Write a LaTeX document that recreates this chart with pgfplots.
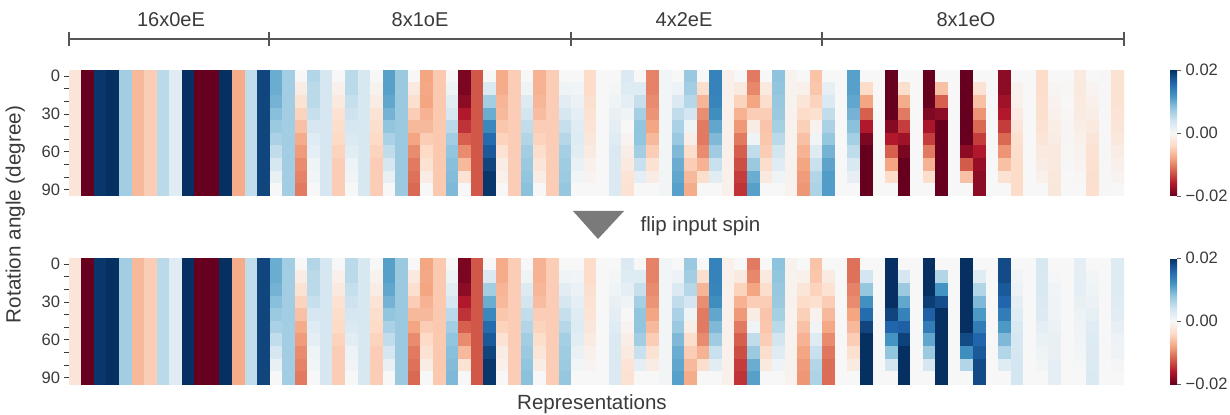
\documentclass[border=0pt]{standalone}
\usepackage{fontspec}
\setmainfont{Liberation Sans}
\usepackage{pgfplots}
\usepackage{pgfplotstable}
\pgfplotsset{compat=1.18}
\definecolor{txt}{HTML}{3A3A3A}
\definecolor{brk}{HTML}{555555}
\definecolor{tri}{HTML}{7A7A7A}
\pgfplotsset{colormap={RdBuR}{rgb255=(103,0,31) rgb255=(178,24,43) rgb255=(214,96,77) rgb255=(244,165,130) rgb255=(253,219,199) rgb255=(247,247,247) rgb255=(209,229,240) rgb255=(146,197,222) rgb255=(67,147,195) rgb255=(33,102,172) rgb255=(5,48,97)}}
% values in units of 0.001; one line per heatmap column, angles 0..90
\pgfplotstableread[row sep=\\,header=false]{
-2.5\\-2.5\\-2.5\\-2.5\\-2.5\\-2.5\\-2.5\\-2.5\\-2.5\\-2.5\\
-20\\-20\\-20\\-20\\-20\\-20\\-20\\-20\\-20\\-20\\
19.5\\19.5\\19.5\\19.5\\19.5\\19.5\\19.5\\19.5\\19.5\\19.5\\
20\\20\\20\\20\\20\\20\\20\\20\\20\\20\\
7\\7\\7\\7\\7\\7\\7\\7\\7\\7\\
-6.5\\-6.5\\-6.5\\-6.5\\-6.5\\-6.5\\-6.5\\-6.5\\-6.5\\-6.5\\
-5\\-5\\-5\\-5\\-5\\-5\\-5\\-5\\-5\\-5\\
5.5\\5.5\\5.5\\5.5\\5.5\\5.5\\5.5\\5.5\\5.5\\5.5\\
2.5\\2.5\\2.5\\2.5\\2.5\\2.5\\2.5\\2.5\\2.5\\2.5\\
20\\20\\20\\20\\20\\20\\20\\20\\20\\20\\
-20\\-20\\-20\\-20\\-20\\-20\\-20\\-20\\-20\\-20\\
-20\\-20\\-20\\-20\\-20\\-20\\-20\\-20\\-20\\-20\\
20\\20\\20\\20\\20\\20\\20\\20\\20\\20\\
-7.5\\-7.5\\-7.5\\-7.5\\-7.5\\-7.5\\-7.5\\-7.5\\-7.5\\-7.5\\
5\\5\\5\\5\\5\\5\\5\\5\\5\\5\\
18.5\\18.5\\18.5\\18.5\\18.5\\18.5\\18.5\\18.5\\18.5\\18.5\\
10\\10\\9.5\\8.5\\7.5\\6.5\\5\\3.5\\1.5\\0\\
7\\7\\7\\7\\7\\7\\7\\7\\7\\7\\
0\\-1.5\\-3\\-4.5\\-6\\-7.5\\-8.5\\-9.5\\-10\\-10.5\\
6\\5.5\\5.5\\4.7\\3.5\\2.5\\2\\1\\0.5\\0\\
3.5\\3.5\\3.5\\3.5\\3.5\\3.5\\3.5\\3.5\\3.5\\3.5\\
0\\-1\\-2\\-3\\-3.5\\-4\\-4.5\\-5\\-5\\-5\\
5.5\\5.5\\4.7\\4.2\\3.5\\3\\2.2\\1.2\\0.6\\0\\
3.3\\3.3\\3.3\\3.3\\3.3\\3.3\\3.3\\3.3\\3.3\\3.3\\
0\\-0.7\\-1.5\\-2.7\\-3.5\\-4\\-4.5\\-5\\-5\\-5\\
11\\11\\10.5\\9.5\\8\\6.5\\5\\3.5\\1.5\\0\\
7.5\\7.5\\7.5\\7.5\\7.5\\7.5\\7.5\\7.5\\7.5\\7.5\\
0\\-2\\-3.3\\-5\\-6.5\\-8\\-9.5\\-10.5\\-11\\-11.5\\
-8\\-7.8\\-8\\-7\\-6.5\\-5\\-4\\-3\\-1.5\\0\\
-5.3\\-5.3\\-5.3\\-5.3\\-5.3\\-5.3\\-5.3\\-5.3\\-5.3\\-5.3\\
0\\1\\2.3\\3.5\\5.5\\7\\8\\8.5\\8.8\\9\\
-19\\-19\\-18\\-16\\-14.5\\-12\\-9.5\\-6.5\\-3\\0\\
-12.5\\-12.5\\-12.5\\-12.5\\-12.5\\-12.5\\-12.5\\-12.5\\-12.5\\-12.5\\
0\\3\\7\\10\\13\\15.5\\17\\18.5\\19.5\\19.5\\
-7.5\\-7.5\\-6.8\\-6.5\\-5.5\\-4.5\\-3\\-1.5\\-1\\0\\
-5\\-5\\-5\\-5\\-5\\-5\\-5\\-5\\-5\\-5\\
0\\1\\2.8\\3.8\\5\\6\\7\\7.5\\8\\8.3\\
-7\\-7\\-6.7\\-6.2\\-5\\-4.5\\-3.5\\-2.5\\-1.5\\0\\
-5\\-5\\-5\\-5\\-5\\-5\\-5\\-5\\-5\\-5\\
0\\1\\2.3\\3.5\\4.8\\5.8\\6.8\\7.2\\7.4\\7.8\\
0\\0.6\\1.3\\2\\2.5\\2.7\\2.2\\1.4\\0.5\\0\\
-3.7\\-3.7\\-3.3\\-3\\-2.8\\-2.3\\-1.7\\-1\\-0.6\\0\\
0\\0\\0\\0\\0\\0\\0\\0\\0\\0\\
0\\0.3\\1\\1.5\\2\\2.5\\3\\3\\3\\3\\
3\\2.7\\2\\1\\0\\-0.5\\-1.3\\-2\\-2.7\\-3\\
0\\2.7\\4.7\\6.8\\8\\8\\7\\4.5\\2\\0\\
-10\\-10\\-9.5\\-9\\-8\\-6.5\\-5\\-3\\-1.5\\0\\
0.5\\0.5\\0.5\\0.5\\0.5\\0.5\\0.5\\0.5\\0.5\\0.5\\
0\\1.2\\3\\5\\6.5\\7.5\\9\\10\\10.5\\11\\
7.6\\7\\5.8\\3.7\\1\\-1.3\\-3.6\\-5\\-6.5\\-7.5\\
0\\-3.5\\-6.8\\-9.3\\-10.5\\-10.5\\-9.5\\-7\\-3.5\\0\\
13.5\\13.5\\13.3\\12.5\\10.5\\9\\7.2\\4.5\\2.2\\0\\
-1\\-1\\-1\\-1\\-1\\-1\\-1\\-1\\-1\\-1\\
0\\-2\\-4.5\\-7\\-8.7\\-10.5\\-12\\-13\\-14\\-14.5\\
-10.5\\-9.7\\-8\\-5\\-1.5\\1\\5\\7.5\\10\\11\\
0\\-2\\-3.5\\-5\\-5.7\\-5.5\\-5\\-3.5\\-2\\0\\
8.2\\8\\7.7\\7.5\\6.8\\5.5\\3.8\\2.5\\1\\0\\
-0.7\\-0.7\\-0.7\\-0.7\\-0.7\\-0.7\\-0.7\\-0.7\\-0.7\\-0.7\\
0\\-1\\-2.5\\-3.7\\-4.8\\-6\\-7\\-8\\-8.5\\-8.8\\
-5.8\\-5.5\\-4.6\\-3.2\\-0.8\\0.6\\2.6\\4.5\\6\\6.3\\
}\tabCommon
\pgfplotstableread[row sep=\\,header=false]{
0\\1.7\\3\\5\\6.5\\7.8\\9.5\\10.7\\11.3\\11.3\\
0\\0\\0\\0\\0\\0\\0\\0\\0\\0\\
11\\11\\10.5\\9.5\\8.3\\6.8\\5.2\\3.2\\1.7\\0\\
0\\-3.7\\-8\\-12\\-16\\-18.8\\-20\\-20\\-20\\-20\\
0\\0\\0\\0\\0\\0\\0\\0\\0\\0\\
-20\\-20\\-20\\-20\\-18.3\\-16\\-12\\-8\\-3.7\\0\\
0\\-3.5\\-7.5\\-10.5\\-14\\-17\\-19\\-20\\-20\\-20\\
0\\0\\0\\0\\0\\0\\0\\0\\0\\0\\
-20\\-20\\-20\\-18.7\\-16.5\\-14\\-10.5\\-7\\-3.5\\0\\
0\\-6\\-12\\-18\\-20\\-20\\-20\\-20\\-20\\-20\\
0\\0\\0\\0\\0\\0\\0\\0\\0\\0\\
-20\\-20\\-20\\-20\\-20\\-20\\-18\\-12.3\\-6\\0\\
0\\-3\\-6\\-9\\-11.5\\-14\\-16\\-17.5\\-18\\-18\\
0\\0\\0\\0\\0\\0\\0\\0\\0\\0\\
-18\\-18\\-17\\-16\\-14\\-11.5\\-9\\-6\\-3\\0\\
0\\-0.8\\-1\\-1.8\\-2.5\\-3.2\\-3.5\\-3.7\\-3.7\\-3.7\\
0\\0\\0\\0\\0\\0\\0\\0\\0\\0\\
-3.7\\-3.5\\-3.4\\-3.3\\-3\\-2.5\\-2\\-1.5\\-1\\0\\
0\\-0.4\\-0.8\\-1\\-1.4\\-1.6\\-2\\-2\\-2.2\\-2.3\\
0\\-0.2\\0\\-0.2\\-0.3\\-0.3\\-0.2\\-0.1\\0\\0\\
-2\\-2\\-1.9\\-1.7\\-1.4\\-1\\-0.8\\-0.5\\-0.2\\0\\
0\\-0.5\\-1\\-1.3\\-2\\-2.5\\-3\\-3.2\\-3.3\\-3.4\\
-0.1\\-0.1\\-0.1\\-0.1\\-0.1\\-0.1\\-0.1\\-0.1\\-0.1\\-0.1\\
-3\\-3\\-2.9\\-2.8\\-2.5\\-2.2\\-1.5\\-1\\-0.5\\0\\
}\tabTop
\pgfplotstableread[row sep=\\,header=false]{
0\\-1.7\\-3\\-5\\-6.5\\-7.8\\-9.5\\-10.7\\-11.3\\-11.3\\
0\\0\\0\\0\\0\\0\\0\\0\\0\\0\\
-11\\-11\\-10\\-9.5\\-8\\-6.5\\-5\\-3.2\\-1.7\\0\\
0\\3.7\\7.8\\12.3\\15.5\\18.5\\20\\20\\20\\20\\
0\\0\\0\\0\\0\\0\\0\\0\\0\\0\\
20\\20\\20\\20\\18.5\\16\\12\\8\\3.7\\0\\
0\\3.5\\7.5\\10.5\\13.5\\16.5\\18.7\\20\\20\\20\\
0\\0\\0\\0\\0\\0\\0\\0\\0\\0\\
20\\20\\20\\19\\16.5\\14\\10.5\\7.5\\3.5\\0\\
0\\6\\12\\17.8\\20\\20\\20\\20\\20\\20\\
0\\0\\0\\0\\0\\0\\0\\0\\0\\0\\
20\\20\\20\\20\\20\\20\\18\\12.5\\6\\0\\
0\\2.5\\6\\9\\11.5\\14\\16\\17\\18\\18\\
0\\0\\0\\0\\0\\0\\0\\0\\0\\0\\
18\\18\\17\\16\\14\\11.5\\9\\6\\2.5\\0\\
0\\0.7\\1.2\\2\\2.5\\3.2\\3.5\\3.5\\3.7\\3.7\\
0\\0\\0\\0\\0\\0\\0\\0\\0\\0\\
3.3\\3.2\\3.2\\3.1\\2.8\\2\\1.4\\1\\0.5\\0\\
0\\0.2\\0.6\\0.8\\1\\1.3\\1.5\\1.6\\1.9\\2\\
0\\0\\0\\0\\0\\0\\0\\0\\0\\0\\
2\\2\\1.9\\1.6\\1.2\\0.8\\0.7\\0.5\\0.2\\0\\
0\\0.5\\1\\1.3\\1.8\\2.4\\2.7\\2.8\\2.9\\3\\
0\\0\\0\\0\\0\\0\\0\\0\\0\\0\\
2.7\\2.7\\2.7\\2.5\\2.2\\1.7\\1.2\\0.8\\0.4\\0\\
}\tabBottom
\pgfplotsset{
  heat/.style={
    scale only axis, width=791.25pt, height=94.5pt,
    xmin=-0.5, xmax=83.5, ymin=-5, ymax=95, y dir=reverse,
    colormap name=RdBuR, point meta min=-0.02, point meta max=0.02,
    axis line style={draw=none},
    xtick=\empty, ytick={0,10,...,90},
    yticklabels={0,,,30,,,60,,,90},
    ytick pos=left, tick align=outside,
    major tick length=3.75pt,
    y tick style={color=txt, line width=0.7pt},
    y tick label style={font=\fontsize{12.4}{14}\selectfont, text=txt, xshift=0.5pt},
    colorbar,
    colorbar style={
      scale only axis, at={(1.0436,1)}, anchor=north west,
      width=5.25pt, height=94.5pt,
      axis line style={draw=none},
      ytick={-0.02,0,0.02},
      yticklabels={−0.02,0.00,0.02},
      scaled y ticks=false,
      ytick pos=right, tick align=outside,
      major tick length=3pt,
      y tick style={color=txt!80, line width=0.7pt},
      y tick label style={font=\fontsize{12.4}{14}\selectfont, text=txt},
    },
  },
  cells/.style={matrix plot*, mesh/rows=10, mesh/cols=#1, mesh/ordering=y varies, point meta=explicit},
}
\begin{document}
\begin{tikzpicture}
\useasboundingbox (0,0) rectangle (922.5pt,310.5pt);
\begin{axis}[heat, at={(51.75pt,163.5pt)}, anchor=south west]
\addplot[cells=60] table[x index=0, y index=0, meta expr={\thisrowno{0}/1000}, x expr={floor((\coordindex+0.5)/10)}, y expr={10*(\coordindex-10*floor((\coordindex+0.5)/10))}] \tabCommon;
\addplot[cells=24] table[x index=0, y index=0, meta expr={\thisrowno{0}/1000}, x expr={60+floor((\coordindex+0.5)/10)}, y expr={10*(\coordindex-10*floor((\coordindex+0.5)/10))}] \tabTop;
\end{axis}
\begin{axis}[heat, at={(51.75pt,22.5pt)}, anchor=south west]
\addplot[cells=60] table[x index=0, y index=0, meta expr={\thisrowno{0}/1000}, x expr={floor((\coordindex+0.5)/10)}, y expr={10*(\coordindex-10*floor((\coordindex+0.5)/10))}] \tabCommon;
\addplot[cells=24] table[x index=0, y index=0, meta expr={\thisrowno{0}/1000}, x expr={60+floor((\coordindex+0.5)/10)}, y expr={10*(\coordindex-10*floor((\coordindex+0.5)/10))}] \tabBottom;
\end{axis}
% group bracket
\draw[brk, line width=1.1pt] (51.75pt,281.25pt) -- (843pt,281.25pt);
\foreach \x in {51.75,201.75,428.25,616.5,843}
  \draw[brk, line width=1.1pt] (\x pt,276pt) -- (\x pt,286.5pt);
\foreach \x/\t in {128.25/16x0eE,315/8x1oE,513/4x2eE,724.5/8x1eO}
  \node[text=txt, font=\fontsize{15}{18}\selectfont] at (\x pt,295.5pt) {\t};
% flip arrow
\fill[tri] (429.75pt,152.25pt) -- (468pt,152.25pt) -- (448.5pt,131.25pt) -- cycle;
\node[text=txt, anchor=west, inner sep=0pt, font=\fontsize{15.4}{18}\selectfont] at (480.2pt,141pt) {flip input spin};
\node[text=txt, rotate=90, font=\fontsize{15.5}{18}\selectfont] at (11.5pt,149.6pt) {Rotation angle (degree)};
\node[text=txt, font=\fontsize{15.4}{18}\selectfont] at (444pt,7.5pt) {Representations};
\end{tikzpicture}
\end{document}
